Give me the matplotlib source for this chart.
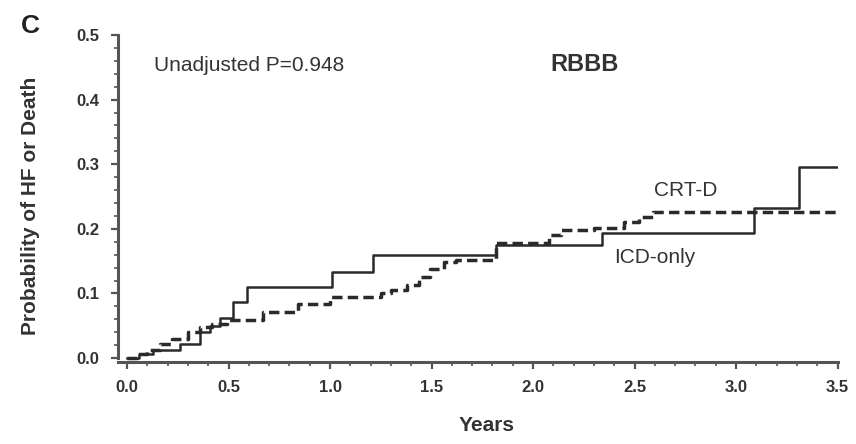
"""Kaplan-Meier style cumulative probability plot - RBBB panel C"""
import matplotlib
matplotlib.use('Agg')
import matplotlib.pyplot as plt
from matplotlib.ticker import MultipleLocator

plt.rcParams['font.family'] = ['Liberation Sans', 'DejaVu Sans']

# ICD-only (solid step curve)
icd_years = [0, 0.06, 0.13, 0.26, 0.36, 0.41, 0.46, 0.52, 0.59, 1.01, 1.21, 1.82, 2.34, 3.09, 3.31, 3.5]
icd_prob = [0, 0.006, 0.013, 0.022, 0.04, 0.05, 0.062, 0.087, 0.11, 0.133, 0.16, 0.175, 0.193, 0.232, 0.296, 0.296]

# CRT-D (dashed step curve)
crt_years = [0, 0.05, 0.1, 0.16, 0.22, 0.3, 0.36, 0.42, 0.49, 0.67, 0.84, 1.0, 1.25, 1.3, 1.38,
             1.44, 1.49, 1.56, 1.62, 1.82, 2.08, 2.14, 2.3, 2.45, 2.52, 2.59, 3.5]
crt_prob = [0, 0.006, 0.013, 0.022, 0.03, 0.04, 0.048, 0.053, 0.059, 0.072, 0.083, 0.095, 0.1, 0.106, 0.113,
            0.125, 0.138, 0.148, 0.152, 0.178, 0.19, 0.198, 0.202, 0.21, 0.218, 0.226, 0.226]

x_ticks = [0.0, 0.5, 1.0, 1.5, 2.0, 2.5, 3.0, 3.5]
y_ticks = [0.0, 0.1, 0.2, 0.3, 0.4, 0.5]

INK = '#333333'

fig = plt.figure(figsize=(8.56, 4.44), dpi=100)
ax = fig.add_axes([0.1373, 0.1847, 0.8411, 0.7365])

ax.step(icd_years, icd_prob, where='post', color='#2a2a2a', lw=1.8)
ax.step(crt_years, crt_prob, where='post', color='#2a2a2a', lw=2.5,
        linestyle=(0, (3, 1.5)))

ax.set_xlim(-0.047, 3.5)
ax.set_ylim(-0.006, 0.5)
ax.set_xticks(x_ticks)
ax.set_xticklabels(['%.1f' % v for v in x_ticks])
ax.set_yticks(y_ticks)
ax.set_yticklabels(['%.1f' % v for v in y_ticks])
ax.xaxis.set_minor_locator(MultipleLocator(0.1))
ax.yaxis.set_minor_locator(MultipleLocator(0.02))

for s in ['top', 'right']:
    ax.spines[s].set_visible(False)
for s in ['left', 'bottom']:
    ax.spines[s].set_linewidth(2.2)
    ax.spines[s].set_color('#555555')
ax.spines['left'].set_bounds(0, 0.5)

ax.tick_params(axis='both', which='major', length=5, width=1.6, color='#555555',
               labelsize=12, pad=8, labelcolor=INK)
ax.tick_params(axis='both', which='minor', length=3, width=1.2, color='#555555')
for lab in ax.get_xticklabels() + ax.get_yticklabels():
    lab.set_fontweight('bold')

ax.set_xlabel('Years', fontsize=15, fontweight='bold', color=INK)
ax.xaxis.set_label_coords(0.512, -0.165)
ax.set_ylabel('Probability of HF or Death', fontsize=15, fontweight='bold', color=INK)
ax.yaxis.set_label_coords(-0.108, 0.477)

ax.text(0.6, 0.453, 'Unadjusted P=0.948', fontsize=15, ha='center', va='center',
        color=INK)
ax.text(2.256, 0.455, 'RBBB', fontsize=17, fontweight='bold', ha='center', va='center',
        color=INK)
ax.text(2.75, 0.26, 'CRT-D', fontsize=15, ha='center', va='center', color=INK)
ax.text(2.6, 0.155, 'ICD-only', fontsize=15, ha='center', va='center', color=INK)

fig.text(30 / 856, 1 - 26 / 444, 'C', fontsize=19, fontweight='bold', ha='center',
         va='center', color='#222222')

fig.savefig('out.png', dpi=100, facecolor='white')
